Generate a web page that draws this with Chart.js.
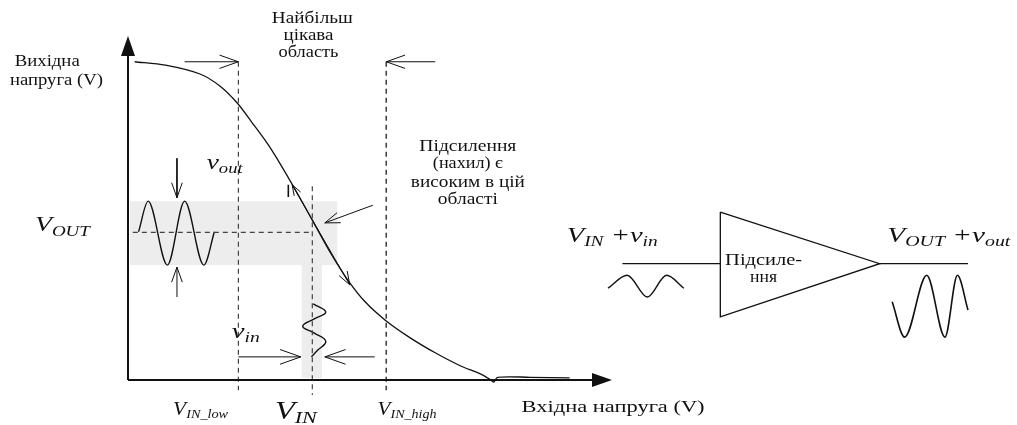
<!DOCTYPE html>
<html>
<head>
<meta charset="utf-8">
<script src="https://cdn.jsdelivr.net/npm/chart.js@4.4.1/dist/chart.umd.min.js"></script>
<style>
  body { margin: 0; background: #fff; }
  canvas { display: block; }
</style>
</head>
<body>
<canvas id="amp" width="1017" height="425"></canvas>
<script>
// transfer curve: input voltage -> output voltage (arbitrary units)
const curveX = [0.07, 0.39, 0.75, 0.96, 1.14, 1.29, 1.46, 1.61, 1.77, 1.94, 2.11, 2.29, 2.47, 2.68, 2.94, 3.20, 3.46, 3.67, 3.77, 3.81, 3.85, 4.19, 4.60];
const curveY = [4.68, 4.63, 4.50, 4.32, 4.07, 3.79, 3.46, 3.12, 2.73, 2.30, 1.87, 1.47, 1.15, 0.88, 0.62, 0.40, 0.21, 0.09, 0.01, -0.03, 0.04, 0.04, 0.03];

// operating points
const vinLow = 1.15;
const vinMid = 1.92;
const vinHigh = 2.69;
const voutLevel = 2.17;
const axisEnd = 5.0;

// shaded region around the operating point (L shape)
const bandX = [0.02, 2.18, 2.18, 2.02, 2.02, 1.81, 1.81, 0.02, 0.02];
const bandY = [2.63, 2.63, 1.69, 1.69, 0.03, 0.03, 1.69, 1.69, 2.63];

// small signals
const voutWaveX = [0.11, 0.21, 0.41, 0.59, 0.79, 0.90];
const voutWaveY = [2.18, 2.63, 1.69, 2.63, 1.69, 2.18];
const vinWaveX = [1.93, 2.06, 1.94, 1.82, 1.94, 2.06, 1.97, 1.91];
const vinWaveY = [1.12, 1.00, 0.90, 0.79, 0.69, 0.57, 0.43, 0.34];

// amplifier block on the right
const triX = [6.17, 6.17, 7.83, 6.17];
const triY = [2.47, 0.93, 1.71, 2.47];
const ampLineY = 1.71;
const ampInX = [5.15, 6.17];
const ampOutX = [7.83, 8.75];
const ampInWaveX = [5.00, 5.20, 5.41, 5.61, 5.79];
const ampInWaveY = [1.35, 1.54, 1.22, 1.54, 1.35];
const ampOutWaveX = [7.96, 8.09, 8.32, 8.51, 8.64, 8.75];
const ampOutWaveY = [1.15, 0.63, 1.54, 0.63, 1.54, 1.03];

function pts(xs, ys) {
  return xs.map((x, i) => ({ x: x, y: ys[i] }));
}

const ink = '#111';
const dashInk = '#444';

function lineSet(data, extra) {
  return Object.assign({
    data: data,
    showLine: true,
    pointRadius: 0,
    borderColor: ink,
    borderWidth: 1.3,
    tension: 0,
    clip: false,
    fill: false,
    order: 0
  }, extra || {});
}

const datasets = [
  // shaded band goes behind everything
  lineSet(pts(bandX, bandY), { borderWidth: 0, borderColor: 'rgba(0,0,0,0)', backgroundColor: '#ededed', fill: 'shape', order: 5 }),
  // axes
  lineSet(pts([0, 0], [0, axisEnd]), { borderWidth: 2, arrow: 'filled' }),
  lineSet(pts([0, axisEnd], [0, 0]), { borderWidth: 2, arrow: 'filled' }),
  // dashed guides
  lineSet(pts([vinLow, vinLow], [4.68, -0.15]), { borderDash: [5, 4], borderColor: dashInk, borderWidth: 1.2 }),
  lineSet(pts([vinMid, vinMid], [2.85, -0.22]), { borderDash: [5, 4], borderColor: dashInk, borderWidth: 1.2 }),
  lineSet(pts([vinHigh, vinHigh], [4.68, -0.15]), { borderDash: [5, 4], borderColor: dashInk, borderWidth: 1.6 }),
  lineSet(pts([0.05, vinMid], [voutLevel, voutLevel]), { borderDash: [5, 4], borderColor: dashInk, borderWidth: 1.2 }),
  // transfer curve
  lineSet(pts(curveX, curveY), { tension: 0.3, borderWidth: 1.3 }),
  // tangent marker and pointer
  lineSet(pts([1.71, 2.31], [2.87, 1.40]), { borderWidth: 1, arrow: 'open', arrowLen: 14, arrowBoth: true }),
  lineSet(pts([1.67, 1.67], [2.87, 2.69]), { borderWidth: 1.6 }),
  lineSet(pts([2.55, 2.05], [2.57, 2.31]), { borderWidth: 1, arrow: 'open', arrowLen: 16 }),
  // region arrows
  lineSet(pts([0.59, vinLow], [4.68, 4.68]), { borderWidth: 1, arrow: 'open', arrowLen: 20 }),
  lineSet(pts([3.20, vinHigh], [4.68, 4.68]), { borderWidth: 1, arrow: 'open', arrowLen: 20 }),
  lineSet(pts([vinLow, 1.80], [0.34, 0.34]), { borderWidth: 1, arrow: 'open', arrowLen: 22 }),
  lineSet(pts([2.57, 2.05], [0.34, 0.34]), { borderWidth: 1, arrow: 'open', arrowLen: 22 }),
  lineSet(pts([0.51, 0.51], [3.26, 2.68]), { borderWidth: 1, arrow: 'open', arrowLen: 16 }),
  lineSet(pts([0.51, 0.51], [1.22, 1.66]), { borderWidth: 1, arrow: 'open', arrowLen: 16 }),
  // signals
  lineSet(pts(voutWaveX, voutWaveY), { cubicInterpolationMode: 'monotone', borderWidth: 1.4 }),
  lineSet(pts(vinWaveX, vinWaveY), { tension: 0.45, borderWidth: 1.4 }),
  // amplifier
  lineSet(pts(triX, triY), { borderWidth: 1.3 }),
  lineSet(pts(ampInX, [ampLineY, ampLineY]), { borderWidth: 1.3 }),
  lineSet(pts(ampOutX, [ampLineY, ampLineY]), { borderWidth: 1.3 }),
  lineSet(pts(ampInWaveX, ampInWaveY), { cubicInterpolationMode: 'monotone', borderWidth: 1.4 }),
  lineSet(pts(ampOutWaveX, ampOutWaveY), { cubicInterpolationMode: 'monotone', borderWidth: 1.6 })
];

// text labels: position in data units, w = width of the text in the picture
const serif = '"Liberation Serif", "DejaVu Serif", serif';
const textLabels = [
  { x: -1.18, y: 4.68, text: 'Вихідна', align: 'left', w: 65 },
  { x: -1.23, y: 4.40, text: 'напруга (V)', align: 'left', w: 93 },
  { x: 1.92, y: 5.32, text: 'Найбільш', w: 81 },
  { x: 1.88, y: 5.06, text: 'цікава', w: 50 },
  { x: 1.88, y: 4.81, text: 'область', w: 60 },
  { x: 3.54, y: 3.44, text: 'Підсилення', w: 97 },
  { x: 3.54, y: 3.19, text: '(нахил) є', w: 70 },
  { x: 3.54, y: 2.91, text: 'високим в цій', w: 114 },
  { x: 3.54, y: 2.66, text: 'області', w: 60 },
  { x: 4.10, y: -0.41, text: 'Вхідна напруга (V)', align: 'left', w: 183 },
  { x: 6.22, y: 1.76, text: 'Підсиле-', align: 'left', size: 16, w: 77 },
  { x: 6.48, y: 1.50, text: 'ння', align: 'left', size: 16, w: 27 }
];
const mathLabels = [
  { x: -0.97, y: 2.27, size: 22, w: 55, segs: [['V', 'n'], ['OUT', 's']] },
  { x: 0.82, y: 3.19, size: 22, w: 36, segs: [['v', 'n'], ['out', 's']] },
  { x: 1.08, y: 0.70, size: 22, w: 28, segs: [['v', 'n'], ['in', 's']] },
  { x: 0.47, y: -0.44, size: 18, w: 55, segs: [['V', 'n'], ['IN_low', 's']] },
  { x: 1.53, y: -0.47, size: 25, w: 42, segs: [['V', 'n'], ['IN', 's']] },
  { x: 2.60, y: -0.44, size: 18, w: 59, segs: [['V', 'n'], ['IN_high', 's']] },
  { x: 4.57, y: 2.12, size: 22, w: 91, segs: [['V', 'n'], ['IN', 's'], [' +', 'n'], ['v', 'n'], ['in', 's']] },
  { x: 7.91, y: 2.12, size: 22, w: 123, segs: [['V', 'n'], ['OUT', 's'], [' +', 'n'], ['v', 'n'], ['out', 's']] }
];

function drawHead(ctx, tip, from, len, kind) {
  const ang = Math.atan2(tip.y - from.y, tip.x - from.x);
  if (kind === 'filled') {
    const half = 7;
    ctx.beginPath();
    ctx.moveTo(tip.x + Math.cos(ang) * 4, tip.y + Math.sin(ang) * 4);
    ctx.lineTo(tip.x - Math.cos(ang) * len - Math.sin(ang) * half, tip.y - Math.sin(ang) * len + Math.cos(ang) * half);
    ctx.lineTo(tip.x - Math.cos(ang) * len + Math.sin(ang) * half, tip.y - Math.sin(ang) * len - Math.cos(ang) * half);
    ctx.closePath();
    ctx.fill();
  } else {
    const spread = 0.34;
    ctx.beginPath();
    ctx.moveTo(tip.x - Math.cos(ang - spread) * len, tip.y - Math.sin(ang - spread) * len);
    ctx.lineTo(tip.x, tip.y);
    ctx.lineTo(tip.x - Math.cos(ang + spread) * len, tip.y - Math.sin(ang + spread) * len);
    ctx.stroke();
  }
}

const arrowHeads = {
  id: 'arrowHeads',
  afterDatasetsDraw(chart) {
    const ctx = chart.ctx;
    chart.data.datasets.forEach((ds, i) => {
      if (!ds.arrow) return;
      const el = chart.getDatasetMeta(i).data;
      ctx.save();
      ctx.strokeStyle = ds.borderColor;
      ctx.fillStyle = ds.borderColor;
      ctx.lineWidth = ds.borderWidth;
      const len = ds.arrow === 'filled' ? 16 : (ds.arrowLen || 14);
      drawHead(ctx, el[el.length - 1], el[el.length - 2], len, ds.arrow);
      if (ds.arrowBoth) drawHead(ctx, el[0], el[1], len * 0.8, ds.arrow);
      ctx.restore();
    });
  }
};

const labelsPlugin = {
  id: 'labels',
  afterDraw(chart) {
    const ctx = chart.ctx;
    const sx = chart.scales.x, sy = chart.scales.y;
    ctx.save();
    ctx.fillStyle = '#111';
    ctx.textBaseline = 'middle';
    textLabels.forEach(l => {
      ctx.font = (l.size || 17) + 'px ' + serif;
      ctx.textAlign = l.align || 'center';
      const k = l.w / ctx.measureText(l.text).width;
      ctx.save();
      ctx.translate(sx.getPixelForValue(l.x), sy.getPixelForValue(l.y));
      ctx.scale(k, 1);
      ctx.fillText(l.text, 0, 0);
      ctx.restore();
    });
    ctx.textAlign = 'left';
    mathLabels.forEach(l => {
      const fontFor = kind => 'italic ' + (kind === 's' ? Math.round(l.size * 0.66) : l.size) + 'px ' + serif;
      let natural = 0;
      l.segs.forEach(([t, kind]) => { ctx.font = fontFor(kind); natural += ctx.measureText(t).width; });
      ctx.save();
      ctx.translate(sx.getPixelForValue(l.x), sy.getPixelForValue(l.y));
      ctx.scale(l.w / natural, 1);
      let px = 0;
      l.segs.forEach(([t, kind]) => {
        ctx.font = fontFor(kind);
        ctx.fillText(t, px, kind === 's' ? l.size * 0.28 : 0);
        px += ctx.measureText(t).width;
      });
      ctx.restore();
    });
    ctx.restore();
  }
};

new Chart(document.getElementById('amp'), {
  type: 'scatter',
  data: { datasets: datasets },
  options: {
    responsive: false,
    animation: false,
    devicePixelRatio: 1,
    layout: { padding: 0 },
    plugins: { legend: { display: false }, tooltip: { enabled: false } },
    scales: {
      x: { type: 'linear', display: false, min: -128 / 96, max: 889 / 96 },
      y: { type: 'linear', display: false, min: -45 / 68, max: 380 / 68 }
    }
  },
  plugins: [arrowHeads, labelsPlugin]
});
</script>
</body>
</html>
